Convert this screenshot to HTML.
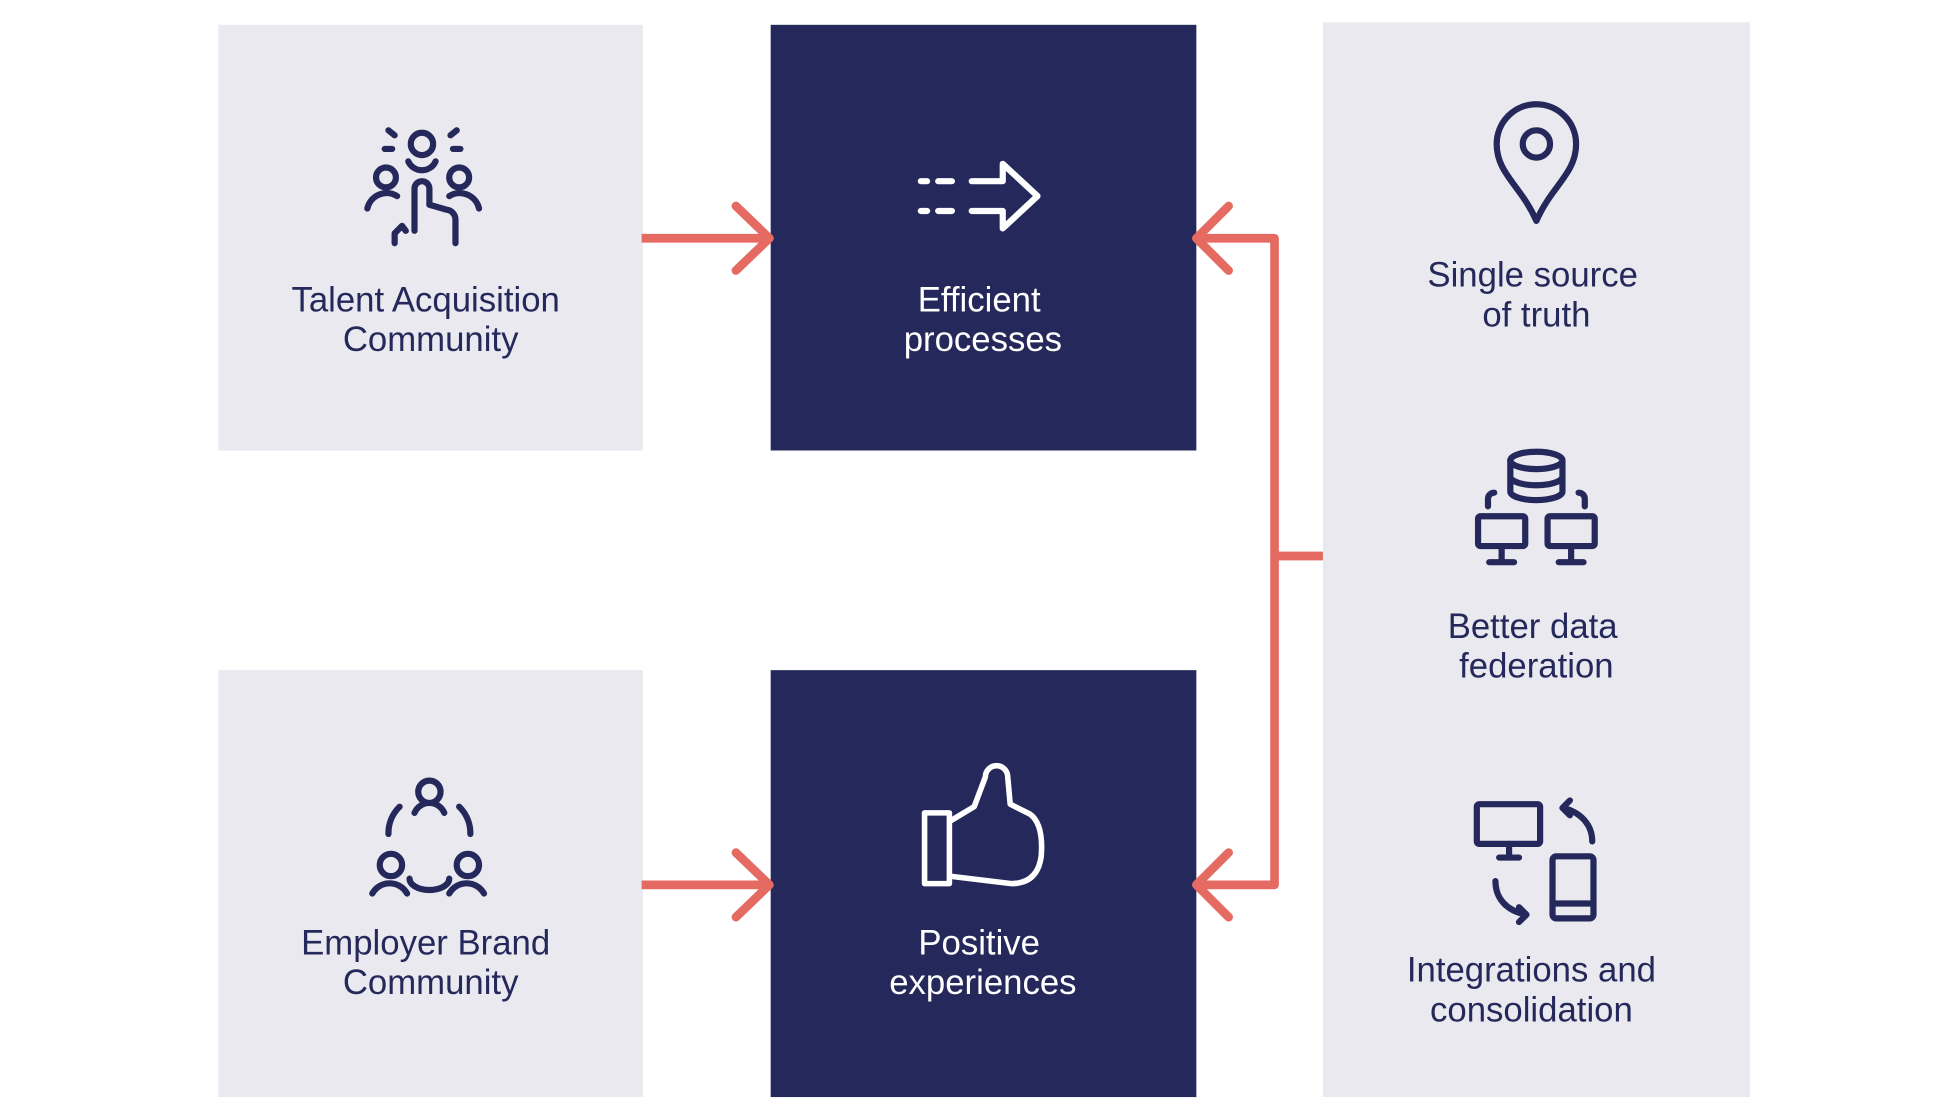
<!DOCTYPE html>
<html><head><meta charset="utf-8"><style>
html,body{margin:0;padding:0;background:#fff;width:1936px;height:1106px;overflow:hidden}
svg{display:block}
text{font-family:"Liberation Sans",sans-serif;font-size:28px;text-anchor:middle}
</style></head><body>
<svg width="1936" height="1106" viewBox="0 0 1560 891.2" preserveAspectRatio="none">
<rect x="176" y="20" width="342" height="343" fill="#e9e9ef"/>
<rect x="621" y="20" width="343" height="343" fill="#25285a"/>
<rect x="176" y="540" width="342" height="344" fill="#e9e9ef"/>
<rect x="621" y="540" width="343" height="344" fill="#25285a"/>
<rect x="1066" y="18" width="344" height="866" fill="#e9e9ef"/>

<g stroke="#e56b62" stroke-width="7" fill="none" stroke-linecap="round" stroke-linejoin="round">
<path d="M517 192 H620" stroke-linecap="butt"/>
<path d="M593 166 L620 192 L593 218"/>
<path d="M517 713 H620" stroke-linecap="butt"/>
<path d="M593 687 L620 713 L593 739"/>
<path d="M1066 448 H1027 M967 192 H1027 V713 H967" stroke-linecap="butt"/>
<path d="M990 166 L964 192 L990 218"/>
<path d="M990 687 L964 713 L990 739"/>
</g>

<g fill="#25285a">
<text x="343" y="251">Talent Acquisition</text>
<text x="347" y="283">Community</text>
<text x="343" y="769">Employer Brand</text>
<text x="347" y="801">Community</text>
<text x="1235" y="231">Single source</text>
<text x="1238" y="263">of truth</text>
<text x="1235" y="514">Better data</text>
<text x="1238" y="546">federation</text>
<text x="1234" y="791">Integrations and</text>
<text x="1234" y="823">consolidation</text>
</g>
<g fill="#fff">
<text x="789" y="251">Efficient</text>
<text x="792" y="283">processes</text>
<text x="789" y="769">Positive</text>
<text x="792" y="801">experiences</text>
</g>

<g stroke="#25285a" stroke-width="5" fill="none" stroke-linecap="round" stroke-linejoin="round">
<circle cx="340" cy="116" r="9"/>
<path d="M329 130 a12 12 0 0 0 22 0"/>
<circle cx="311" cy="143" r="8"/>
<circle cx="370" cy="143" r="8"/>
<path d="M296 168 a16 16 0 0 1 24 -10"/>
<path d="M362 158 a16 16 0 0 1 24 10"/>
<path d="M313 105 l5 4 M368 105 l-5 4 M310 120 h6 M365 120 h6"/>
<path d="M318 196 v-8 l6 -6 l3 4 M334 186 V152 a6 6 0 0 1 12 0 V165 l14 4 a8 8 0 0 1 7 8 V196"/>
</g>

<g stroke="#fff" stroke-width="5" fill="none" stroke-linecap="round" stroke-linejoin="round">
<path d="M742 146 h5 M756 146 h11 M742 170 h5 M756 170 h11"/>
<path d="M783 146 H808 V132 L836 158 L808 184 V170 H783"/>
</g>

<g stroke="#25285a" stroke-width="5" fill="none" stroke-linejoin="round">
<path d="M1238 178 C1226 150 1206 140 1206 116 a32 32 0 0 1 64 0 C1270 140 1250 150 1238 178 Z"/>
<circle cx="1238" cy="116" r="11"/>
</g>

<g stroke="#25285a" stroke-width="5" fill="none" stroke-linecap="round" stroke-linejoin="round">
<ellipse cx="1238" cy="371" rx="21" ry="7"/>
<path d="M1217 371 V396 a21 7 0 0 0 42 0 V371 M1217 384 a21 7 0 0 0 42 0"/>
<path d="M1199 408 v-6 a5 5 0 0 1 5 -5 M1277 408 v-6 a5 5 0 0 0 -5 -5"/>
<rect x="1191" y="416" width="38" height="24" rx="2"/>
<rect x="1247" y="416" width="38" height="24" rx="2"/>
<path d="M1210 440 v12 M1200 453 h20 M1266 440 v12 M1256 453 h20"/>
</g>

<g stroke="#25285a" stroke-width="5" fill="none" stroke-linecap="round" stroke-linejoin="round">
<rect x="1190" y="648" width="51" height="32" rx="2"/>
<path d="M1216 680 v10 M1208 691 h16"/>
<rect x="1251" y="690" width="33" height="50" rx="3"/>
<path d="M1251 728 h33"/>
<path d="M1283 678 C1283 664 1273 654 1259 651 M1259 651 l6 -6 M1259 651 l6 6"/>
<path d="M1205 710 C1205 724 1214 734 1230 737 M1230 737 l-6 -6 M1230 737 l-6 6"/>
</g>

<g stroke="#25285a" stroke-width="5" fill="none" stroke-linecap="round" stroke-linejoin="round">
<circle cx="346" cy="638" r="9"/>
<path d="M334 655 a13 13 0 0 1 24 0"/>
<circle cx="315" cy="697" r="9"/>
<circle cx="377" cy="697" r="9"/>
<path d="M300 720 a16 16 0 0 1 28 0 M362 720 a16 16 0 0 1 28 0"/>
<path d="M330 708 a14 8 0 0 0 32 0"/>
<path d="M322 650 a30 30 0 0 0 -9 22 M370 650 a30 30 0 0 1 9 22"/>
</g>

<g stroke="#fff" stroke-width="4.5" fill="none" stroke-linejoin="round">
<rect x="745" y="655" width="20" height="57"/>
<path d="M765 662 L785 650 L794 626 a9 9 0 0 1 18 0 L814 648 L830 656 Q841 664 839 690 Q836 712 815 712 L765 706"/>
</g>
</svg>
</body></html>
